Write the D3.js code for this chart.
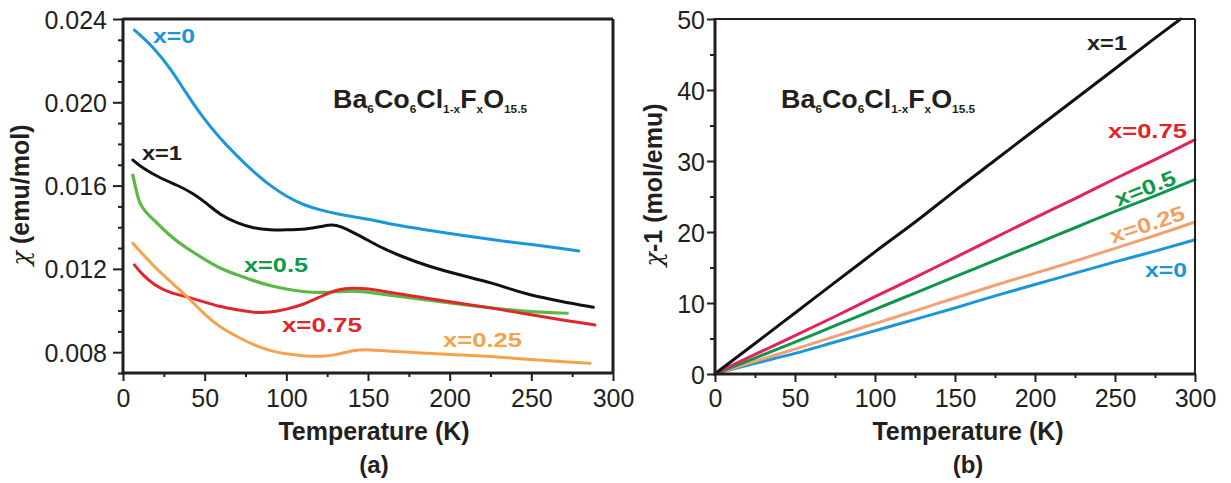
<!DOCTYPE html>
<html><head><meta charset="utf-8">
<script src="https://cdn.jsdelivr.net/npm/d3@7"></script>
<style>
body{margin:0;background:#fff}
svg{display:block}
text{font-family:"Liberation Sans",Arial,Helvetica,sans-serif}
</style>
</head><body>
<svg id="c" width="1231" height="483"></svg>
<script>
// ---------- Data: panel (a) chi vs T ----------
const tempA_x0   = [7,19,29,39,49,59,70,80,90,100,110,121,131,141,151,166,186,206,227,247,268,279];
const chiA_x0    = [0.02347,0.02262,0.02163,0.02040,0.01925,0.01830,0.01740,0.01665,0.01600,0.01548,0.01508,0.01482,0.01464,0.01450,0.01438,0.01411,0.01387,0.01363,0.01339,0.0132,0.01299,0.01286];
const tempA_x1   = [6,12,23,33,43,52,59,70,80,90,100,112,122,128,133,141,151,160,170,186,206,227,237,247,268,288];
const chiA_x1    = [0.01723,0.01683,0.01635,0.01603,0.01563,0.01510,0.01462,0.01419,0.01395,0.01387,0.01387,0.0139,0.01404,0.01413,0.01405,0.01375,0.01333,0.01295,0.01262,0.01214,0.01171,0.01131,0.01103,0.01079,0.01043,0.01016];
const tempA_x05  = [6,8,10,14,19,29,39,49,59,70,80,90,100,110,121,131,141,151,166,186,206,227,247,272];
const chiA_x05   = [0.0165,0.0158,0.01515,0.0147,0.01435,0.01355,0.01299,0.01251,0.01203,0.01171,0.01143,0.01119,0.01103,0.0109,0.01086,0.0109,0.01095,0.01088,0.0107,0.01051,0.0103,0.01011,0.00994,0.00987];
const tempA_x075 = [7,12,19,29,39,49,59,70,80,90,100,110,121,131,141,151,166,186,206,227,247,268,289];
const chiA_x075  = [0.01219,0.01171,0.01123,0.01083,0.01067,0.01043,0.01019,0.01003,0.0099,0.0099,0.01006,0.01027,0.01067,0.01102,0.01109,0.01105,0.01083,0.01059,0.01035,0.01011,0.00983,0.00955,0.00931];
const tempA_x025 = [6,19,29,39,49,59,70,80,90,100,110,121,131,141,151,166,186,206,227,247,268,286];
const chiA_x025  = [0.01323,0.01211,0.01139,0.0107,0.00987,0.00922,0.00874,0.00834,0.00807,0.00791,0.00782,0.00778,0.00787,0.00811,0.00813,0.00802,0.00795,0.00787,0.00779,0.00766,0.00754,0.00747];

// ---------- Data: panel (b) 1/chi vs T ----------
const tempB      = [1,25,50,75,100,125,150,175,200,225,250,275,300];
const tempB_x1   = [1,25,50,75,100,128,150,175,200,225,250,275,291];
const invB_x1    = [0.2,4.3,8.6,12.9,17.2,21.9,25.8,30.1,34.4,38.7,43.0,47.3,50.0];
const invB_x075  = [0.2,2.75,5.4,8.1,10.9,13.6,16.4,19.2,22.0,24.7,27.5,30.2,33.0];
const invB_x05   = [0.1,2.25,4.5,6.8,9.1,11.4,13.7,16.0,18.3,20.6,22.9,25.1,27.4];
const invB_x025  = [0.1,1.8,3.5,5.3,7.1,8.9,10.7,12.5,14.2,15.9,17.7,19.5,21.4];
const invB_x0    = [0.1,1.5,2.9,4.5,6.1,7.7,9.3,11.0,12.6,14.2,15.8,17.3,18.9];

// ---------- Ticks / labels ----------
const xTicks = [0,50,100,150,200,250,300];
const xMinor = [25,75,125,175,225,275];
const yTicksA = [0.008,0.012,0.016,0.020,0.024];
const yMinorA = [0.007,0.009,0.010,0.011,0.013,0.014,0.015,0.017,0.018,0.019,0.021,0.022,0.023];
const yTicksB = [0,10,20,30,40,50];
const yMinorB = [5,15,25,35,45];
const seriesNames = ["x=0","x=0.25","x=0.5","x=0.75","x=1"];

const ink = '#231f20';
const svg = d3.select('#c');

function drawAxes(x, y, yTicks, yMinor, yFmt, opt){
  const [x0,x1] = x.range(); const [yb,yt] = y.range();
  const g = svg.append('g');
  const gx = g.append('g').attr('transform',`translate(0,${yb})`)
    .call(d3.axisBottom(x).tickValues(xTicks).tickSize(8).tickFormat(d3.format('d')));
  gx.select('.domain').remove();
  gx.selectAll('line').attr('stroke',ink).attr('stroke-width',2);
  gx.selectAll('text').attr('dy',null).attr('y', 407-yb).attr('fill',ink).style('font-size','25px');
  const gxm = g.append('g').attr('transform',`translate(0,${yb})`)
    .call(d3.axisBottom(x).tickValues(xMinor).tickSize(4).tickFormat(''));
  gxm.select('.domain').remove();
  gxm.selectAll('line').attr('stroke',ink).attr('stroke-width',2);
  const gy = g.append('g').attr('transform',`translate(${x0},0)`)
    .call(d3.axisLeft(y).tickValues(yTicks).tickSize(opt.ytick).tickPadding(opt.ypad).tickFormat(yFmt));
  gy.select('.domain').remove();
  gy.selectAll('line').attr('stroke',ink).attr('stroke-width',2);
  gy.selectAll('text').attr('fill',ink).attr('dy','0.36em').style('font-size','25px');
  const gym = g.append('g').attr('transform',`translate(${x0},0)`)
    .call(d3.axisLeft(y).tickValues(yMinor).tickSize(5).tickFormat(''));
  gym.select('.domain').remove();
  gym.selectAll('line').attr('stroke',ink).attr('stroke-width',2);
  g.append('line').attr('x1',x0).attr('x2',x1).attr('y1',yt).attr('y2',yt).attr('stroke',ink).attr('stroke-width',opt.frameW);
  g.append('line').attr('x1',x1).attr('x2',x1).attr('y1',yt).attr('y2',yb).attr('stroke',ink).attr('stroke-width',opt.frameW);
  g.append('line').attr('x1',x0).attr('x2',x0).attr('y1',yt-1).attr('y2',yb+1.5).attr('stroke',ink).attr('stroke-width',3);
  g.append('line').attr('x1',x0-1.5).attr('x2',x1+1).attr('y1',yb).attr('y2',yb).attr('stroke',ink).attr('stroke-width',3);
}

function drawSeries(x, y, T, V, color, width, curve){
  const data = T.map((t,i)=>[t,V[i]]);
  svg.append('path').datum(data)
    .attr('fill','none').attr('stroke',color).attr('stroke-width',width)
    .attr('stroke-linejoin','round').attr('stroke-linecap','round')
    .attr('d', d3.line().x(d=>x(d[0])).y(d=>y(d[1])).curve(curve));
}

function label(px, py, txt, color, len, rot){
  const t = svg.append('text').attr('x',px).attr('y',py).text(txt)
    .attr('fill',color).style('font-size','21px').style('font-weight','bold')
    .attr('textLength',len).attr('lengthAdjust','spacingAndGlyphs');
  if(rot!==undefined){
    t.attr('text-anchor','middle').attr('dy','0.36em').attr('transform',`rotate(${rot},${px},${py})`);
  }
}

function formula(px, py){
  const t = svg.append('text').attr('x',px).attr('y',py).attr('fill',ink)
    .style('font-weight','bold').attr('textLength',194).attr('lengthAdjust','spacingAndGlyphs');
  const parts = [["Ba",0],["6",1],["Co",0],["6",1],["Cl",0],["1-x",1],["F",0],["x",1],["O",0],["15.5",1]];
  let sub=false;
  parts.forEach(([s,isSub])=>{
    const ts = t.append('tspan').text(s);
    if(isSub){ ts.style('font-size','11px').attr('dy', sub?0:5); sub=true; }
    else { ts.style('font-size','25px').attr('dy', sub?-5:0); sub=false; }
  });
}

function axisTitles(cx, yx, ycy, chiTxt, restTxt, tag){
  svg.append('text').attr('x',cx).attr('y',440).attr('text-anchor','middle').attr('fill',ink)
    .style('font-size','25px').style('font-weight','bold').text('Temperature (K)');
  svg.append('text').attr('x',cx).attr('y',473).attr('text-anchor','middle').attr('fill',ink)
    .style('font-size','24px').style('font-weight','bold').text(tag);
  const t = svg.append('text').attr('transform',`translate(${yx},${ycy}) rotate(-90)`).attr('text-anchor','middle')
    .attr('fill',ink).style('font-size','25px').style('font-weight','bold');
  t.append('tspan').style('font-family','"DejaVu Serif",serif').style('font-weight','normal').style('font-style','italic').style('font-size','24px').text(chiTxt);
  t.append('tspan').text(restTxt);
}

// ---------- Panel (a) ----------
const xA = d3.scaleLinear().domain([0,300]).range([123,613]);
const yA = d3.scaleLinear().domain([0.007,0.024]).range([373,19]);
const cA = d3.curveBasis;
drawSeries(xA,yA,tempA_x0,chiA_x0,'#1b96d9',3,cA);
drawSeries(xA,yA,tempA_x1,chiA_x1,'#111111',3,cA);
drawSeries(xA,yA,tempA_x05,chiA_x05,'#5ab946',3.2,cA);
drawSeries(xA,yA,tempA_x075,chiA_x075,'#e1262b',3,cA);
drawSeries(xA,yA,tempA_x025,chiA_x025,'#f4a24c',3,cA);
drawAxes(xA,yA,yTicksA,yMinorA,d3.format('.3f'),{ytick:10,ypad:6,frameW:3});
label(xA(18.4),yA(0.02285),seriesNames[0],'#1b96d9',42);
label(xA(11.6),yA(0.01723),seriesNames[4],'#231f20',40);
label(xA(74.1),yA(0.01185),seriesNames[2],'#0e9a48',64);
label(xA(97.3),yA(0.00897),seriesNames[3],'#e1262b',80);
label(xA(195.9),yA(0.00825),seriesNames[1],'#f4a24c',79);
formula(xA(128.6),yA(0.01973));
axisTitles(374,29,195,'χ',' (emu/mol)','(a)');

// ---------- Panel (b) ----------
const xB = d3.scaleLinear().domain([0,300]).range([715,1195]);
const yB = d3.scaleLinear().domain([0,50]).range([374,19]);
const cB = d3.curveMonotoneX;
drawSeries(xB,yB,tempB,invB_x0,'#1b96d9',3,cB);
drawSeries(xB,yB,tempB,invB_x025,'#f3a073',3,cB);
drawSeries(xB,yB,tempB,invB_x05,'#10964a',3,cB);
drawSeries(xB,yB,tempB,invB_x075,'#e2245a',3,cB);
drawSeries(xB,yB,tempB_x1,invB_x1,'#111111',3,cB);
drawAxes(xB,yB,yTicksB,yMinorB,d3.format('d'),{ytick:8,ypad:2,frameW:2});
label(xB(232.5),yB(45.6),seriesNames[4],'#231f20',40);
label(xB(245.6),yB(33.2),seriesNames[3],'#e1262b',79);
label(xB(268.8),yB(26.2),seriesNames[2],'#0e9a48',64,-21.5);
label(xB(270),yB(21.1),seriesNames[1],'#f3a060',78,-18.5);
label(xB(268.8),yB(13.7),seriesNames[0],'#1b96d9',42);
formula(xB(41.3),yB(37.5));
axisTitles(968,662,185,'χ','-1 (mol/emu)','(b)');
</script>
</body></html>
